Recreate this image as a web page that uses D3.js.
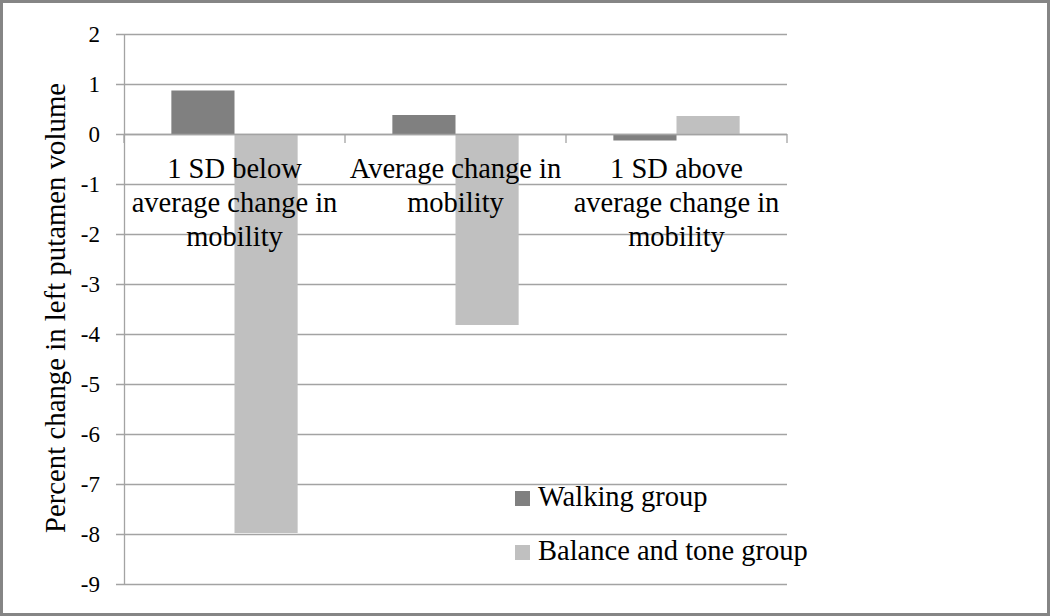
<!DOCTYPE html>
<html>
<head>
<meta charset="utf-8">
<script src="https://cdn.jsdelivr.net/npm/d3@7"></script>
<style>
  body { margin: 0; background: #fff; }
</style>
</head>
<body>
<svg id="chart" width="1050" height="616"></svg>
<script>
const categories = [
  ["1 SD below", "average change in", "mobility"],
  ["Average change in", "mobility"],
  ["1 SD above", "average change in", "mobility"]
];
const seriesNames = ["Walking group", "Balance and tone group"];
const walking = [0.87, 0.38, -0.13];
const balance = [-7.98, -3.82, 0.36];
const yTicks = [2, 1, 0, -1, -2, -3, -4, -5, -6, -7, -8, -9];
const colors = ["#808080", "#c0c0c0"];

const svg = d3.select("#chart")
  .attr("font-family", "'Liberation Serif', 'Times New Roman', serif");
const margin = { top: 34, left: 124, right: 263, bottom: 32 };
const width = 1050, height = 616;
const gridColor = "#a3a3a3";

// frame
svg.append("rect")
  .attr("x", 1.5).attr("y", 1.5)
  .attr("width", width - 3).attr("height", height - 3)
  .attr("fill", "#fff")
  .attr("stroke", "#858585")
  .attr("stroke-width", 3);

const x0 = d3.scaleBand()
  .domain(d3.range(categories.length))
  .range([margin.left, width - margin.right]);
const x1 = d3.scaleBand()
  .domain(d3.range(seriesNames.length))
  .range([0, x0.bandwidth()])
  .paddingOuter(0.75);
const y = d3.scaleLinear()
  .domain([-9, 2])
  .range([height - margin.bottom, margin.top]);

// gridlines
svg.append("g")
  .selectAll("line")
  .data(yTicks)
  .join("line")
  .attr("x1", margin.left - 8)
  .attr("x2", width - margin.right)
  .attr("y1", d => Math.round(y(d)) + 0.5)
  .attr("y2", d => Math.round(y(d)) + 0.5)
  .attr("stroke", gridColor)
  .attr("stroke-width", 1.3);

// y axis labels
svg.append("g")
  .selectAll("text")
  .data(yTicks)
  .join("text")
  .attr("x", margin.left - 24)
  .attr("y", d => y(d))
  .attr("dy", "0.35em")
  .attr("text-anchor", "end")
  .attr("font-size", 23)
  .text(d => d);

// bars
const series = [walking, balance];
const bars = svg.append("g");
series.forEach((vals, si) => {
  bars.selectAll(".s" + si)
    .data(vals)
    .join("rect")
    .attr("class", "s" + si)
    .attr("x", (d, i) => x0(i) + x1(si))
    .attr("width", x1.bandwidth())
    .attr("y", d => y(Math.max(0, d)))
    .attr("height", d => Math.abs(y(d) - y(0)))
    .attr("fill", colors[si]);
});

// axis line and category ticks
svg.append("line")
  .attr("x1", margin.left + 0.5).attr("x2", margin.left + 0.5)
  .attr("y1", y(2)).attr("y2", y(-9))
  .attr("stroke", gridColor).attr("stroke-width", 1.3);
svg.append("line")
  .attr("x1", margin.left).attr("x2", width - margin.right)
  .attr("y1", Math.round(y(0)) + 0.5).attr("y2", Math.round(y(0)) + 0.5)
  .attr("stroke", gridColor).attr("stroke-width", 1.3);
svg.append("g")
  .selectAll("line")
  .data(d3.range(categories.length + 1))
  .join("line")
  .attr("x1", i => i < categories.length ? x0(i) : width - margin.right)
  .attr("x2", i => i < categories.length ? x0(i) : width - margin.right)
  .attr("y1", y(0))
  .attr("y2", y(0) + 9)
  .attr("stroke", gridColor).attr("stroke-width", 1.3);

// category labels
const catLabels = svg.append("g")
  .selectAll("text")
  .data(categories)
  .join("text")
  .attr("text-anchor", "middle")
  .attr("font-size", 28.5);
catLabels.each(function(lines, i) {
  d3.select(this).selectAll("tspan")
    .data(lines)
    .join("tspan")
    .attr("x", x0(i) + x0.bandwidth() / 2)
    .attr("y", (d, j) => 178 + j * 34)
    .text(d => d);
});

// y title
svg.append("text")
  .attr("transform", "translate(65,308) rotate(-90)")
  .attr("text-anchor", "middle")
  .attr("font-size", 28.8)
  .text("Percent change in left putamen volume");

// legend
const legend = svg.append("g")
  .selectAll("g")
  .data(seriesNames)
  .join("g")
  .attr("transform", (d, i) => "translate(515," + (506 + i * 54) + ")");
legend.append("rect")
  .attr("x", 0).attr("y", -15)
  .attr("width", 15).attr("height", 15)
  .attr("fill", (d, i) => colors[i]);
legend.append("text")
  .attr("x", 23)
  .attr("font-size", 28.5)
  .text(d => d);
</script>
</body>
</html>
